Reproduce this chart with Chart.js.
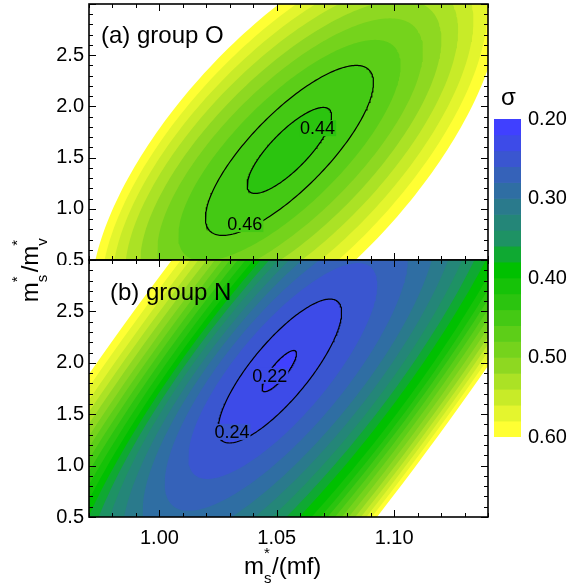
<!DOCTYPE html>
<html>
<head>
<meta charset="utf-8">
<script src="https://cdn.jsdelivr.net/npm/chart.js@4.4.1/dist/chart.umd.min.js"></script>
<style>
  body { margin: 0; background: #fff; width: 572px; height: 586px; position: relative; overflow: hidden;
         font-family: "Liberation Sans", Arial, sans-serif; color: #000; }
  canvas { position: absolute; }
  .txt { position: absolute; font-size: 24px; line-height: 1; white-space: nowrap; }
  .sx { position: relative; display: inline-block; width: 8px; height: 0; }
  .sx i, .sx b { position: absolute; left: 0; font-style: normal; font-weight: normal; font-size: 15px; line-height: 1; }
  .sx i { top: -29px; }
  .sx b { top: -4px; }
  .ytitle .sx { width: 10px; }
</style>
</head>
<body>
<canvas id="panelO" width="500" height="265" style="left:0;top:0"></canvas>
<canvas id="panelN" width="500" height="331" style="left:0;top:255px"></canvas>
<canvas id="colorBar" width="78" height="360" style="left:494px;top:100px"></canvas>

<div class="txt" style="left:101px;top:23px">(a) group O</div>
<div class="txt" style="left:110px;top:280px">(b) group N</div>
<div class="txt" style="left:501px;top:85px">σ</div>
<div class="txt" style="left:244px;top:554px">m<span class="sx"><i>*</i><b>s</b></span>/(mf)</div>
<div class="txt ytitle" style="left:30px;top:269px;transform:translate(-50%,-50%) rotate(-90deg)">m<span class="sx"><i>*</i><b>s</b></span>/m<span class="sx"><i>*</i><b>v</b></span></div>

<script>
// tick labels
const xTicks = [1.00, 1.05, 1.10];
const yTicks = [0.5, 1.0, 1.5, 2.0, 2.5];
const barTicks = [0.20, 0.30, 0.40, 0.50, 0.60];
const bandEdges = [0.20, 0.22, 0.24, 0.26, 0.28, 0.30, 0.32, 0.34, 0.36, 0.38, 0.40,
                   0.42, 0.44, 0.46, 0.48, 0.50, 0.52, 0.54, 0.56, 0.58, 0.60];

// (a) group O: each contour cut along the row y = rowO (left / right crossing),
// how far up it reaches from that row, and the lean of the contour
const levelsO = [0.44, 0.46, 0.48, 0.50, 0.52, 0.54, 0.56, 0.58, 0.60];
const leftO   = [1.0447, 1.0337, 1.0252, 1.0184, 1.0124, 1.0069, 1.0022, 0.9979, 0.9937];
const rightO  = [1.0660, 1.0771, 1.0856, 1.0930, 1.0996, 1.1058, 1.1116, 1.1170, 1.1225];
const reachO  = [0.42, 0.83, 1.08, 1.29, 1.47, 1.64, 1.80, 1.95, 2.10];
const tiltO   = [0.0345, 0.0343, 0.0338, 0.0330, 0.0320, 0.0310, 0.0300, 0.0290, 0.0280];
const rowO = 1.57;
const linesO = [0.44, 0.46];

// (b) group N
const levelsN = [0.22, 0.24, 0.26, 0.28, 0.30, 0.32, 0.34, 0.36, 0.38, 0.40,
                 0.42, 0.44, 0.46, 0.48, 0.50, 0.52, 0.54, 0.56, 0.58, 0.60];
const leftN   = [1.0470, 1.0360, 1.0283, 1.0232, 1.0190, 1.0156, 1.0122, 1.0092, 1.0062, 1.0036,
                 1.0007, 0.9977, 0.9947, 0.9917, 0.9887, 0.9853, 0.9819, 0.9785, 0.9747, 0.9709];
const rightN  = [1.0551, 1.0666, 1.0768, 1.0849, 1.0917, 1.0968, 1.1015, 1.1058, 1.1100, 1.1143,
                 1.1173, 1.1198, 1.1224, 1.1249, 1.1275, 1.1300, 1.1322, 1.1343, 1.1364, 1.1385];
const reachN  = [0.20, 0.70, 1.05, 1.36, 1.66, 1.95, 2.24, 2.53, 2.83, 3.12,
                 3.41, 3.70, 4.00, 4.29, 4.58, 4.87, 5.17, 5.46, 5.75, 6.04];
const tiltN   = levelsN.map(() => 0.0306);
const rowN = 1.92;
const linesN = [0.22, 0.24];

const FONT = '"Liberation Sans", Arial, sans-serif';
Chart.defaults.font.family = FONT;
Chart.defaults.color = '#000';

// colour map of the sigma bands
const anchors = [
  [0.21, [64, 64, 255]], [0.25, [58, 86, 208]], [0.31, [42, 122, 140]], [0.35, [30, 146, 100]],
  [0.39, [0, 192, 0]], [0.43, [43, 196, 15]], [0.51, [142, 216, 33]], [0.55, [200, 235, 40]],
  [0.59, [255, 255, 51]]
];
function bandColor(v) {
  if (v <= anchors[0][0]) return 'rgb(' + anchors[0][1].join(',') + ')';
  for (let i = 1; i < anchors.length; i++) {
    if (v <= anchors[i][0] + 1e-9) {
      const [v0, c0] = anchors[i - 1], [v1, c1] = anchors[i];
      const f = (v - v0) / (v1 - v0);
      return 'rgb(' + c0.map((c, k) => Math.round(c + (c1[k] - c) * f)).join(',') + ')';
    }
  }
  return 'rgb(255,255,51)';
}

function ellipse(xl, xr, row, reach, tilt) {
  const cx = (xl + xr) / 2, h = (xr - xl) / 2;
  const pts = [];
  for (let i = 0; i <= 240; i++) {
    const t = i / 240 * 2 * Math.PI;
    pts.push({ x: cx + h * Math.cos(t) + tilt * reach * Math.sin(t), y: row + reach * Math.sin(t) });
  }
  return pts;
}

function panelSets(levels, left, right, reach, tilt, row, lines) {
  const sets = [];
  // black contour lines on top
  lines.forEach(lv => {
    const i = levels.indexOf(lv);
    sets.push({ data: ellipse(left[i], right[i], row, reach[i], tilt[i]), showLine: true, fill: false,
                borderColor: '#000', borderWidth: 1.2, pointRadius: 0, tension: 0 });
  });
  // filled bands, innermost first so it is drawn on top
  levels.forEach((lv, i) => {
    sets.push({ data: ellipse(left[i], right[i], row, reach[i], tilt[i]), showLine: true, fill: 'shape',
                backgroundColor: bandColor(lv - 0.01), borderWidth: 0, pointRadius: 0, tension: 0 });
  });
  return sets;
}

// frame, inward ticks and contour labels
const frame = {
  id: 'frame',
  afterDatasetsDraw(chart, args, opts) {
    const { ctx, chartArea: a, scales: { x, y } } = chart;
    ctx.save();
    ctx.strokeStyle = '#000';
    ctx.lineWidth = 1;
    ctx.beginPath();
    for (let v = 97; v <= 114; v++) {
      const px = Math.round(x.getPixelForValue(v / 100)) + 0.5;
      const len = v % 5 === 0 ? 7 : 4;
      ctx.moveTo(px, a.top); ctx.lineTo(px, a.top + len);
      ctx.moveTo(px, a.bottom); ctx.lineTo(px, a.bottom - len);
    }
    for (let v = 5; v <= 30; v++) {
      const py = Math.round(y.getPixelForValue(v / 10)) + 0.5;
      const len = v % 5 === 0 ? 7 : 4;
      ctx.moveTo(a.left, py); ctx.lineTo(a.left + len, py);
      ctx.moveTo(a.right, py); ctx.lineTo(a.right - len, py);
    }
    ctx.stroke();
    ctx.lineWidth = 1.6;
    ctx.strokeRect(a.left, a.top, a.right - a.left, a.bottom - a.top);

    ctx.font = '18px ' + FONT;
    ctx.textAlign = 'center';
    ctx.textBaseline = 'middle';
    (opts.labels || []).forEach(l => {
      const px = x.getPixelForValue(l.x), py = y.getPixelForValue(l.y);
      const w = ctx.measureText(l.text).width + 2;
      ctx.fillStyle = bandColor(l.band);
      ctx.fillRect(px - w / 2, py - 8, w, 16);
      ctx.fillStyle = '#000';
      ctx.fillText(l.text, px, py + 1);
    });
    ctx.restore();
  }
};

function noEdgePad(s) {
  s.paddingTop = 0; s.paddingBottom = 0; s.paddingLeft = 0; s.paddingRight = 0;
}

function yAxis() {
  return {
    type: 'linear', min: 0.5, max: 3.0,
    afterFit: s => { s.width = 89; noEdgePad(s); },
    afterBuildTicks: s => { s.ticks = yTicks.map(v => ({ value: v })); },
    grid: { display: false, drawTicks: false }, border: { display: false },
    ticks: { font: { size: 20 }, color: '#000', padding: 5, callback: v => v.toFixed(1) }
  };
}

const common = {
  responsive: false, animation: false, events: []
};

new Chart(document.getElementById('panelO'), {
  type: 'scatter',
  data: { datasets: panelSets(levelsO, leftO, rightO, reachO, tiltO, rowO, linesO) },
  options: Object.assign({}, common, {
    layout: { padding: { top: 4, right: 12, left: 0, bottom: 5 } },
    plugins: {
      legend: { display: false }, tooltip: { enabled: false },
      frame: { labels: [
        { text: '0.44', x: 1.0674, y: 1.787, band: 0.43 },
        { text: '0.46', x: 1.0364, y: 0.851, band: 0.45 }
      ] }
    },
    scales: {
      x: { type: 'linear', min: 0.97, max: 1.14, display: false },
      y: yAxis()
    }
  }),
  plugins: [frame]
});

new Chart(document.getElementById('panelN'), {
  type: 'scatter',
  data: { datasets: panelSets(levelsN, leftN, rightN, reachN, tiltN, rowN, linesN) },
  options: Object.assign({}, common, {
    layout: { padding: { top: 5, right: 12, left: 0, bottom: 0 } },
    plugins: {
      legend: { display: false }, tooltip: { enabled: false },
      frame: { labels: [
        { text: '0.22', x: 1.047, y: 1.874, band: 0.23 },
        { text: '0.24', x: 1.0309, y: 1.328, band: 0.25 }
      ] }
    },
    scales: {
      x: {
        type: 'linear', min: 0.97, max: 1.14,
        afterFit: s => { s.height = 69; noEdgePad(s); },
        afterBuildTicks: s => { s.ticks = xTicks.map(v => ({ value: v })); },
        grid: { display: false, drawTicks: false }, border: { display: false },
        ticks: { font: { size: 20 }, color: '#000', padding: 9, maxRotation: 0, callback: v => v.toFixed(2) }
      },
      y: yAxis()
    }
  }),
  plugins: [frame]
});

// colour bar
new Chart(document.getElementById('colorBar'), {
  type: 'bar',
  data: {
    labels: ['σ'],
    datasets: bandEdges.slice(0, -1).map((lo, i) => ({
      data: [[lo, bandEdges[i + 1]]],
      backgroundColor: bandColor(lo + 0.01), borderWidth: 0,
      grouped: false, barPercentage: 1, categoryPercentage: 1
    }))
  },
  options: Object.assign({}, common, {
    layout: { padding: { top: 19, bottom: 23, left: 0, right: 0 } },
    plugins: { legend: { display: false }, tooltip: { enabled: false } },
    scales: {
      x: { display: false },
      y: {
        position: 'right', min: 0.2, max: 0.6, reverse: true,
        afterFit: s => { s.width = 51; noEdgePad(s); },
        afterBuildTicks: s => { s.ticks = barTicks.map(v => ({ value: v })); },
        grid: { display: false, drawTicks: false }, border: { display: false },
        ticks: { font: { size: 20 }, color: '#000', padding: 7, callback: v => v.toFixed(2) }
      }
    }
  })
});
</script>
</body>
</html>
